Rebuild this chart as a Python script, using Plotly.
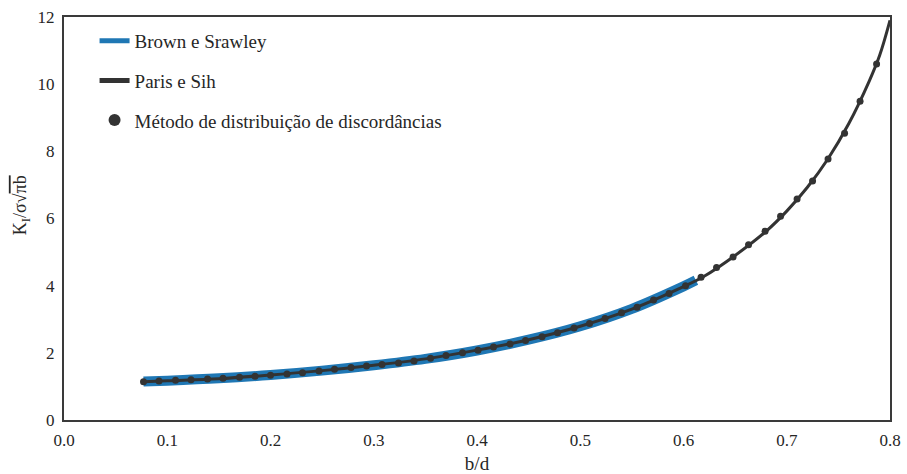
import plotly.graph_objects as go

# Brown e Srawley
brown_x = [0.077, 0.10, 0.15, 0.20, 0.25, 0.30, 0.35, 0.40, 0.45, 0.50, 0.55, 0.60, 0.612]
brown_y = [1.145, 1.17, 1.24, 1.34, 1.47, 1.63, 1.82, 2.07, 2.39, 2.79, 3.31, 3.98, 4.16]

# Paris e Sih
paris_x = [0.077, 0.10, 0.15, 0.20, 0.25, 0.30, 0.35, 0.40, 0.45, 0.50, 0.55, 0.60,
           0.62, 0.65, 0.68, 0.70, 0.72, 0.74, 0.76, 0.78, 0.79, 0.80]
paris_y = [1.14, 1.17, 1.23, 1.34, 1.47, 1.63, 1.82, 2.08, 2.39, 2.79, 3.30, 3.97,
           4.28, 4.90, 5.62, 6.22, 6.93, 7.78, 8.82, 10.10, 10.86, 11.90]

# Método de distribuição de discordâncias
mdd_x = [0.077, 0.092, 0.108, 0.123, 0.139, 0.154, 0.170, 0.185, 0.200, 0.216,
         0.231, 0.247, 0.262, 0.278, 0.293, 0.308, 0.324, 0.339, 0.355, 0.370,
         0.386, 0.401, 0.416, 0.432, 0.447, 0.463, 0.478, 0.494, 0.509, 0.524,
         0.540, 0.555, 0.571, 0.586, 0.602, 0.617, 0.632, 0.648, 0.663, 0.679,
         0.694, 0.710, 0.725, 0.740, 0.756, 0.771, 0.787]
mdd_y = [1.14, 1.16, 1.18, 1.20, 1.22, 1.24, 1.27, 1.30, 1.33, 1.37,
         1.41, 1.46, 1.51, 1.56, 1.61, 1.65, 1.70, 1.76, 1.84, 1.92,
         2.00, 2.08, 2.17, 2.26, 2.37, 2.48, 2.60, 2.74, 2.87, 3.02,
         3.19, 3.36, 3.57, 3.77, 4.00, 4.25, 4.54, 4.85, 5.22, 5.62,
         6.07, 6.58, 7.12, 7.77, 8.54, 9.49, 10.60]

x_ticks = [0.0, 0.1, 0.2, 0.3, 0.4, 0.5, 0.6, 0.7, 0.8]
y_ticks = [0, 2, 4, 6, 8, 10, 12]

BLUE = "#1f77b4"
DARK = "#333333"
FONT = "Liberation Serif, Times New Roman, Times, DejaVu Serif, serif"

fig = go.Figure()
fig.add_trace(go.Scatter(x=brown_x, y=brown_y, mode="lines", name="Brown e Srawley",
                         line=dict(color=BLUE, width=10, shape="spline"),
                         legendgroup="a"))
fig.add_trace(go.Scatter(x=paris_x, y=paris_y, mode="lines", name="Paris e Sih",
                         line=dict(color=DARK, width=3, shape="spline"),
                         legendgroup="b"))
fig.add_trace(go.Scatter(x=mdd_x, y=mdd_y, mode="markers",
                         name="Método de distribuição de discordâncias",
                         marker=dict(color=DARK, size=7), legendgroup="c"))

fig.update_layout(
    width=907, height=474,
    margin=dict(l=64, r=17, t=17, b=54, autoexpand=False),
    paper_bgcolor="white", plot_bgcolor="white",
    font=dict(family=FONT, size=17, color="#262626"),
    showlegend=True,
    legend=dict(x=0.037, y=0.988, xanchor="left", yanchor="top",
                bgcolor="rgba(0,0,0,0)", font=dict(family=FONT, size=19, color="#262626"),
                tracegroupgap=12, itemsizing="constant"),
    annotations=[dict(text="K<sub>I</sub>/σ√<span style='text-decoration:overline'>πb</span>",
                      xref="paper", yref="paper", x=-0.052, y=0.533,
                      xanchor="center", yanchor="middle", textangle=-90,
                      showarrow=False, font=dict(family=FONT, size=18, color="#262626"))],
)
fig.update_xaxes(range=[0, 0.8], tickvals=x_ticks, tickformat=".1f", automargin=False,
                 showgrid=False, zeroline=False, showline=True, mirror=True,
                 linecolor="#3a3a3a", linewidth=2, ticks="", ticklabelstandoff=4,
                 tickfont=dict(family=FONT, size=17),
                 title=dict(text="b/d", font=dict(family=FONT, size=19), standoff=7))
fig.update_yaxes(range=[0, 12], tickvals=y_ticks, automargin=False,
                 showgrid=False, zeroline=False, showline=True, mirror=True,
                 linecolor="#3a3a3a", linewidth=2, ticks="", ticklabelstandoff=4,
                 tickfont=dict(family=FONT, size=17))

fig.write_html("out.html", config={"displayModeBar": False},
               post_script="document.body.style.margin='0';")
